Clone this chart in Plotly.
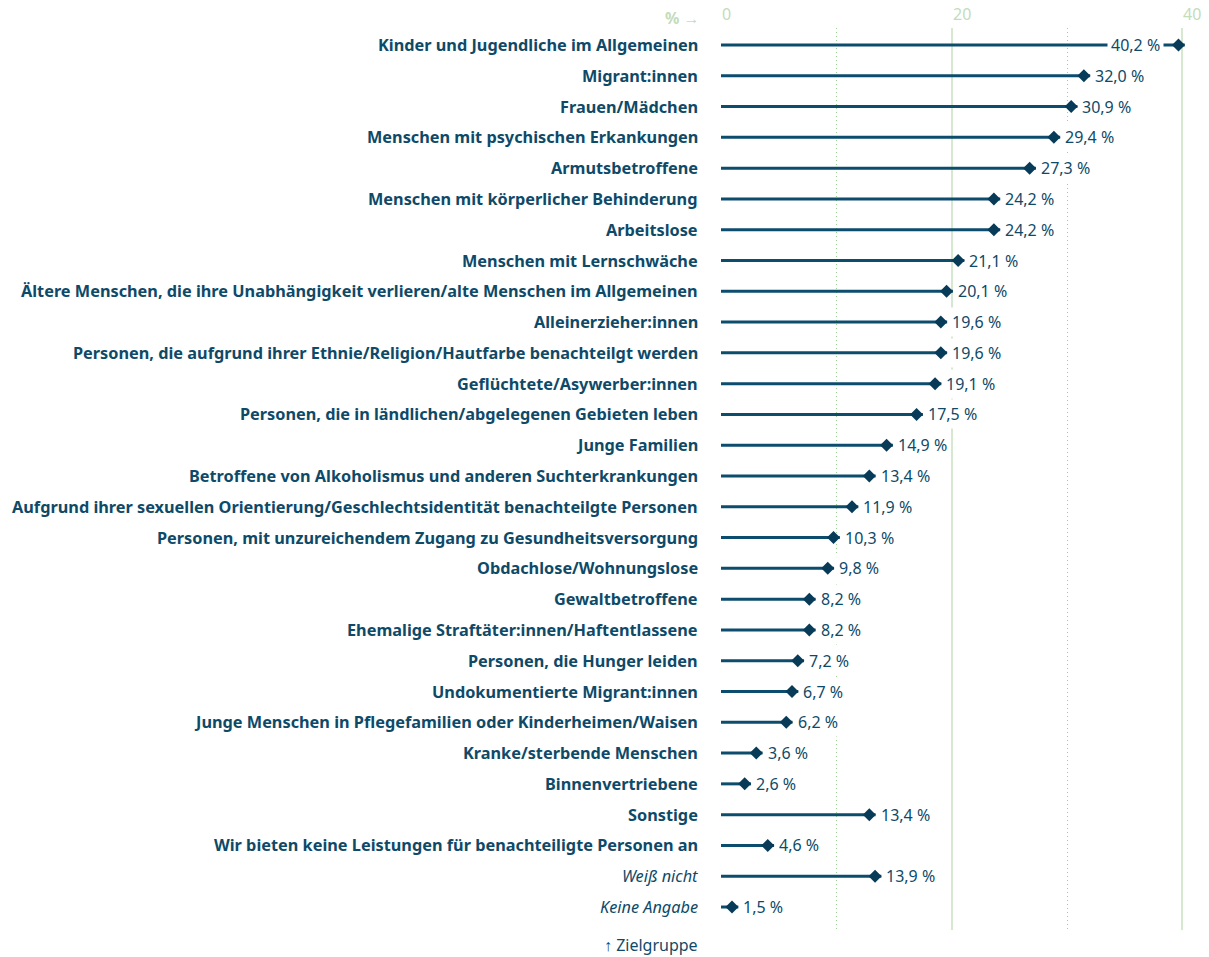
import plotly.graph_objects as go

categories = [
    "Kinder und Jugendliche im Allgemeinen",
    "Migrant:innen",
    "Frauen/Mädchen",
    "Menschen mit psychischen Erkankungen",
    "Armutsbetroffene",
    "Menschen mit körperlicher Behinderung",
    "Arbeitslose",
    "Menschen mit Lernschwäche",
    "Ältere Menschen, die ihre Unabhängigkeit verlieren/alte Menschen im Allgemeinen",
    "Alleinerzieher:innen",
    "Personen, die aufgrund ihrer Ethnie/Religion/Hautfarbe benachteilgt werden",
    "Geflüchtete/Asywerber:innen",
    "Personen, die in ländlichen/abgelegenen Gebieten leben",
    "Junge Familien",
    "Betroffene von Alkoholismus und anderen Suchterkrankungen",
    "Aufgrund ihrer sexuellen Orientierung/Geschlechtsidentität benachteilgte Personen",
    "Personen, mit unzureichendem Zugang zu Gesundheitsversorgung",
    "Obdachlose/Wohnungslose",
    "Gewaltbetroffene",
    "Ehemalige Straftäter:innen/Haftentlassene",
    "Personen, die Hunger leiden",
    "Undokumentierte Migrant:innen",
    "Junge Menschen in Pflegefamilien oder Kinderheimen/Waisen",
    "Kranke/sterbende Menschen",
    "Binnenvertriebene",
    "Sonstige",
    "Wir bieten keine Leistungen für benachteiligte Personen an",
    "Weiß nicht",
    "Keine Angabe",
]
values = [40.2, 32.0, 30.9, 29.4, 27.3, 24.2, 24.2, 21.1, 20.1, 19.6, 19.6, 19.1,
          17.5, 14.9, 13.4, 11.9, 10.3, 9.8, 8.2, 8.2, 7.2, 6.7, 6.2, 3.6, 2.6,
          13.4, 4.6, 13.9, 1.5]
italic_categories = ["Weiß nicht", "Keine Angabe"]
major_ticks = [0, 20, 40]
minor_ticks = [10, 30]
x_axis_label = "%"
y_axis_label = "Zielgruppe"

TEXT = "#0e4a68"
LINE = "#0c4d6e"
MARK = "#073b58"
GRID = "#d6e8d0"
GRID_DOT = "#9fd196"
TICK = "#c3dcbc"
FONT = "Noto Sans"

W, H = 1209, 957
L = 721
px_per_unit = (1182.4 - 721) / 40
X_MAX = 41
R = W - L - X_MAX * px_per_unit
T, B = 28, 27
row_h = 30.786
n = len(categories)
y_idx = list(range(n))
y_top = (T - 45) / row_h
y_bot = (H - B - 45) / row_h

fig = go.Figure()

# stems
lx, ly = [], []
for i, v in zip(y_idx, values):
    lx += [0, v, None]
    ly += [i, i, None]
fig.add_trace(go.Scatter(x=lx, y=ly, mode="lines", line=dict(color=LINE, width=3),
                         hoverinfo="skip", showlegend=False, cliponaxis=False))

# diamond markers, right tip at the value
half_w = 6.3 / px_per_unit
fig.add_trace(go.Scatter(x=[v - half_w for v in values], y=y_idx, mode="markers",
                         marker=dict(symbol="diamond", size=10, color=MARK),
                         showlegend=False, cliponaxis=False))

annotations = []
for i, (c, v) in enumerate(zip(categories, values)):
    lbl = f"<i>{c}</i>" if c in italic_categories else f"<b>{c}</b>"
    annotations.append(dict(x=0, xref="paper", y=i, yref="y", text=lbl,
                            xanchor="right", yanchor="middle", xshift=-21,
                            showarrow=False, font=dict(family=FONT, size=16.3, color=TEXT)))
    vt = f"{v:.1f}".replace(".", ",") + " %"
    if i == 0:
        annotations.append(dict(x=v, xref="x", y=i, yref="y", text=vt, xanchor="right",
                                yanchor="middle", xshift=-21, showarrow=False,
                                bgcolor="white", borderpad=3,
                                font=dict(family=FONT, size=16, color=TEXT)))
    else:
        annotations.append(dict(x=v, xref="x", y=i, yref="y", text=vt, xanchor="left",
                                yanchor="middle", xshift=1, showarrow=False,
                                bgcolor="white", borderpad=3,
                                font=dict(family=FONT, size=16, color=TEXT)))

for t in major_ticks:
    annotations.append(dict(x=t, xref="x", y=1, yref="paper", text=str(t), xanchor="left",
                            yanchor="bottom", xshift=-1, yshift=1, showarrow=False,
                            font=dict(family=FONT, size=16, color=TICK)))
annotations.append(dict(x=0, xref="paper", y=1, yref="paper", text=f"<b>{x_axis_label}</b> →",
                        xanchor="right", yanchor="bottom", xshift=-19, yshift=-3, showarrow=False,
                        font=dict(family=FONT, size=16, color=TICK)))
annotations.append(dict(x=0, xref="paper", y=0, yref="paper", text=f"↑ {y_axis_label}",
                        xanchor="right", yanchor="top", xshift=-21, yshift=-2, showarrow=False,
                        font=dict(family=FONT, size=16, color=TEXT)))

fig.update_layout(
    width=W, height=H,
    margin=dict(l=L, r=R, t=T, b=B, pad=0),
    paper_bgcolor="white", plot_bgcolor="white",
    annotations=annotations,
    xaxis=dict(range=[0, X_MAX], tickvals=major_ticks, showticklabels=False,
               showgrid=True, gridcolor=GRID, gridwidth=2, zeroline=False, showline=False,
               ticks="", fixedrange=True,
               minor=dict(tickvals=minor_ticks, showgrid=True, gridcolor=GRID_DOT,
                          griddash="1px,3px", gridwidth=1, ticks="")),
    yaxis=dict(range=[y_bot, y_top], showticklabels=False, showgrid=False,
               zeroline=False, showline=False, ticks="", fixedrange=True),
)

fig.write_html("out.html", config={"displayModeBar": False},
               post_script="document.body.style.margin='0';")
